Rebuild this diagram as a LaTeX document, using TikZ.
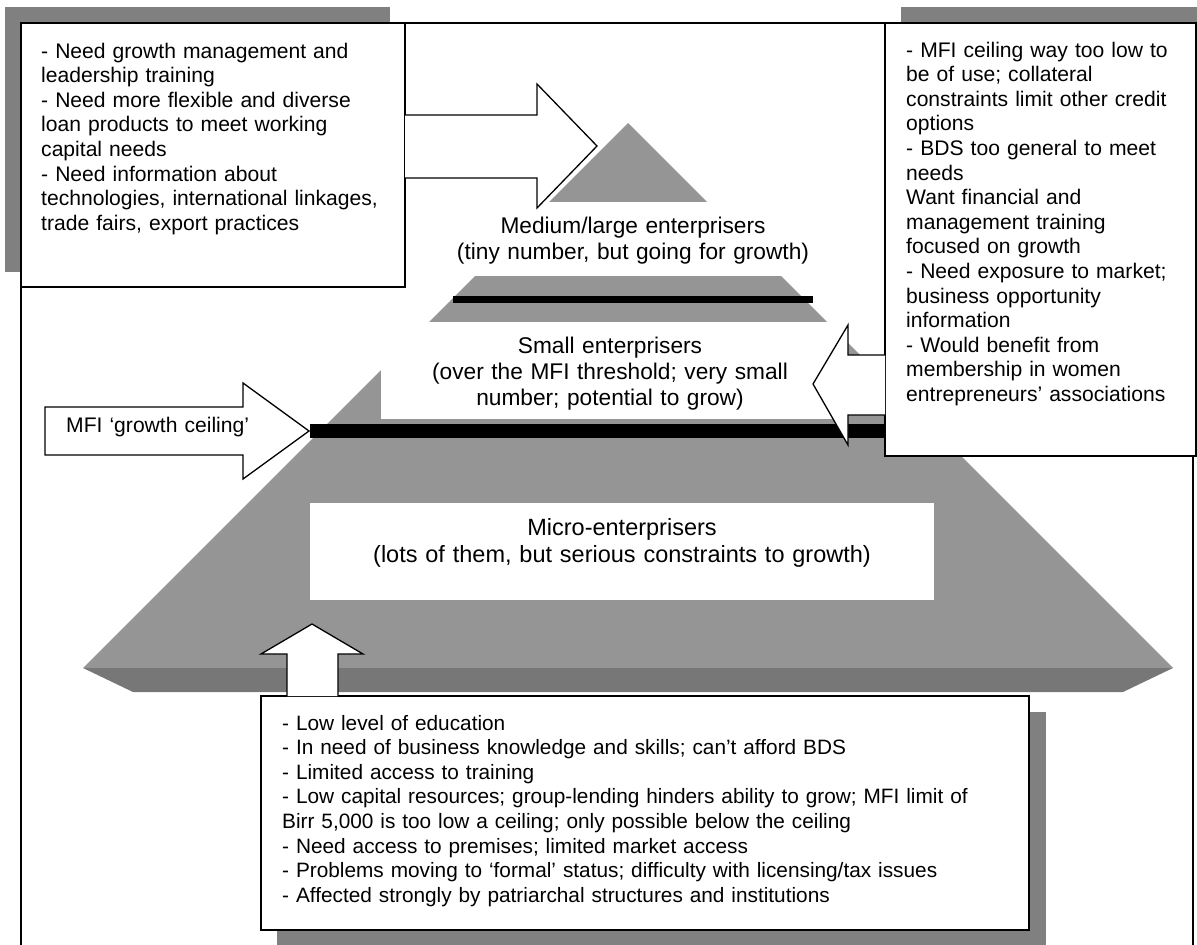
\documentclass[tikz,border=0pt]{standalone}
\usepackage{fontspec}
\setmainfont{Liberation Sans}
\definecolor{pyramidgray}{HTML}{959595}
\definecolor{shadowgray}{HTML}{808080}
\definecolor{basegray}{HTML}{777777}

\begin{document}
\begin{tikzpicture}[x=1pt,y=-1pt,
    boxtext/.style={inner sep=0pt,anchor=base west,text width=900pt,align=left,font=\fontsize{21.1}{24.6}\selectfont},
    leveltext/.style={inner sep=0pt,anchor=base,text width=560pt,align=center,font=\fontsize{22.7}{26}\selectfont},
    note/.style={draw=black,fill=white,line width=1.6pt,inner sep=0pt,outer sep=0pt,anchor=north west},
    blockarrow/.style={draw=black,fill=white,line width=1.3pt,line join=miter}]
                \useasboundingbox (0,0) rectangle (1197,945);
                \draw[line width=1.6pt] (21,946) -- (21,23) -- (1193,23) -- (1193,946);
                % shadows behind the three boxes
                \fill[shadowgray] (5,7) rectangle (390,272);
                \fill[shadowgray] (901,7) rectangle (1197,440);
                \fill[shadowgray] (277,712) rectangle (1046,946);
                % pyramid with its white bands and ceilings
                \fill[pyramidgray] (628,123) -- (83,668) -- (1173,668) -- cycle;
                \fill[basegray] (83,668) -- (1173,668) -- (1123,692) -- (133,692) -- cycle;
                \fill[white] (420,202) rectangle (850,276);
                \fill[white] (381,322) rectangle (848,419);
                \fill[white] (310,503) rectangle (934,600);
                \fill[black] (453,296) rectangle (813,303);
                \fill[black] (310,424) rectangle (890,438);
                \node[leveltext](medium)at(633, 233){Medium/large enterprisers\\(tiny number, but going for growth)};
                \node[leveltext](small)at(610, 353){Small enterprisers\\(over the MFI threshold; very small\\number; potential to grow)};
                \node[leveltext,font=\fontsize{23.5}{27}\selectfont](micro)at(622, 535){Micro-enterprisers\\(lots of them, but serious constraints to growth)};
                % boxes
                \node[note,minimum width=384pt,minimum height=264pt](topbox)at(21, 23){};
                \node[boxtext](toptext)at(41, 58){- Need growth management and\\leadership training\\- Need more flexible and diverse\\loan products to meet working\\capital needs\\- Need information about\\technologies, international linkages,\\trade fairs, export practices};
                \node[note,minimum width=311pt,minimum height=433pt](rightbox)at(885, 23){};
                \node[boxtext](righttext)at(906, 57){- MFI ceiling way too low to\\be of use; collateral\\constraints limit other credit\\options\\- BDS too general to meet\\needs\\Want financial and\\management training\\focused on growth\\- Need exposure to market;\\business opportunity\\information\\- Would benefit from\\membership in women\\entrepreneurs’ associations};
                \node[note,minimum width=768pt,minimum height=234pt](microbox)at(261, 696){};
                \node[boxtext,font=\fontsize{20.8}{24.6}\selectfont](microtext)at(282, 730){- Low level of education\\- In need of business knowledge and skills; can’t afford BDS\\- Limited access to training\\- Low capital resources; group-lending hinders ability to grow; MFI limit of\\Birr 5,000 is too low a ceiling; only possible below the ceiling\\- Need access to premises; limited market access\\- Problems moving to ‘formal’ status; difficulty with licensing/tax issues\\- Affected strongly by patriarchal structures and institutions};
                % block arrows
                \filldraw[blockarrow] (405,115) -- (537,115) -- (537,84) -- (597,146) -- (537,208) -- (537,178) -- (405,178);
                \filldraw[blockarrow] (885,355) -- (848,355) -- (848,325) -- (813,384) -- (848,445) -- (848,415) -- (885,415);
                \filldraw[blockarrow] (287,696) -- (287,654) -- (261,654) -- (312,624) -- (363,654) -- (338,654) -- (338,696);
                \filldraw[blockarrow] (45,407) -- (243,407) -- (243,383) -- (309,431) -- (243,479) -- (243,455) -- (45,455) -- cycle;
                \node[boxtext](ceiling)at(66, 432){MFI ‘growth ceiling’};
            \end{tikzpicture}
\end{document}
